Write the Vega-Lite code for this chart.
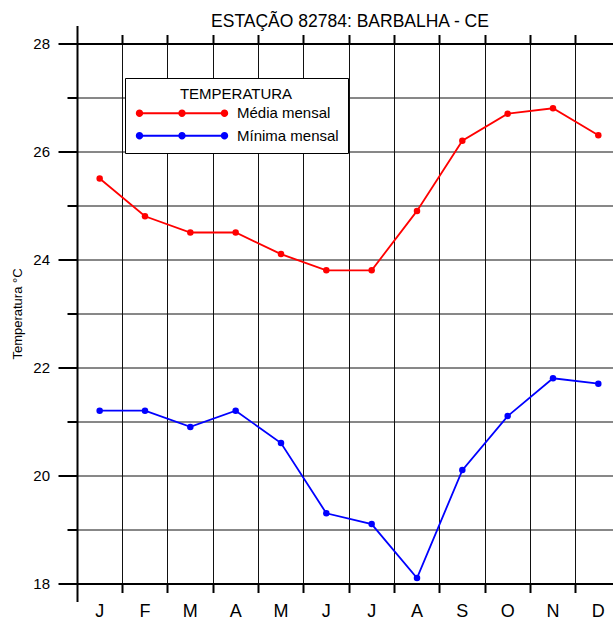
{
  "$schema": "https://vega.github.io/schema/vega-lite/v6.json",
  "width": 536,
  "height": 540,
  "autosize": {"type": "none"},
  "padding": {"left": 77, "top": 43.5, "right": 0, "bottom": 38.5},
  "background": "white",
  "config": {"view": {"stroke": null}, "font": "Liberation Sans"},
  "title": {
    "text": "ESTAÇÃO 82784: BARBALHA - CE",
    "anchor": "middle",
    "frame": "group",
    "font": "Liberation Sans",
    "fontSize": 17.5,
    "fontWeight": "normal",
    "color": "black",
    "offset": -20,
    "baseline": "alphabetic",
    "dx": 5
  },
  "data": {
    "values": [
      {"mes": "Jan", "serie": "Média mensal", "temp": 25.5},
      {"mes": "Fev", "serie": "Média mensal", "temp": 24.8},
      {"mes": "Mar", "serie": "Média mensal", "temp": 24.5},
      {"mes": "Abr", "serie": "Média mensal", "temp": 24.5},
      {"mes": "Mai", "serie": "Média mensal", "temp": 24.1},
      {"mes": "Jun", "serie": "Média mensal", "temp": 23.8},
      {"mes": "Jul", "serie": "Média mensal", "temp": 23.8},
      {"mes": "Ago", "serie": "Média mensal", "temp": 24.9},
      {"mes": "Set", "serie": "Média mensal", "temp": 26.2},
      {"mes": "Out", "serie": "Média mensal", "temp": 26.7},
      {"mes": "Nov", "serie": "Média mensal", "temp": 26.8},
      {"mes": "Dez", "serie": "Média mensal", "temp": 26.3},
      {"mes": "Jan", "serie": "Mínima mensal", "temp": 21.2},
      {"mes": "Fev", "serie": "Mínima mensal", "temp": 21.2},
      {"mes": "Mar", "serie": "Mínima mensal", "temp": 20.9},
      {"mes": "Abr", "serie": "Mínima mensal", "temp": 21.2},
      {"mes": "Mai", "serie": "Mínima mensal", "temp": 20.6},
      {"mes": "Jun", "serie": "Mínima mensal", "temp": 19.3},
      {"mes": "Jul", "serie": "Mínima mensal", "temp": 19.1},
      {"mes": "Ago", "serie": "Mínima mensal", "temp": 18.1},
      {"mes": "Set", "serie": "Mínima mensal", "temp": 20.1},
      {"mes": "Out", "serie": "Mínima mensal", "temp": 21.1},
      {"mes": "Nov", "serie": "Mínima mensal", "temp": 21.8},
      {"mes": "Dez", "serie": "Mínima mensal", "temp": 21.7}
    ]
  },
  "resolve": {"axis": {"x": "independent", "y": "independent"}, "legend": {"color": "independent"}},
  "layer": [
    {
      "mark": {"type": "line", "strokeWidth": 1.8},
      "encoding": {
        "x": {
          "field": "mes",
          "type": "ordinal",
          "sort": ["Jan", "Fev", "Mar", "Abr", "Mai", "Jun", "Jul", "Ago", "Set", "Out", "Nov", "Dez"],
          "scale": {"type": "band", "paddingInner": 0, "paddingOuter": 0, "range": [0, 544]},
          "axis": {
            "orient": "bottom",
            "bandPosition": 0,
            "title": null,
            "grid": true,
            "gridColor": "#111111",
            "gridWidth": 1,
            "domainColor": "black",
            "domainWidth": 2,
            "ticks": true,
            "tickColor": "black",
            "tickWidth": 2,
            "tickSize": {"condition": {"test": "datum.value === 'Jan'", "value": 18}, "value": 9},
            "labelExpr": "substring(datum.label, 0, 1)",
            "labelOffset": 0,
            "labelPadding": {"condition": {"test": "datum.value === 'Jan'", "value": 1}, "value": 10},
            "labelFontSize": 18,
            "labelColor": "black",
            "labelAngle": 0,
            "labelFlush": false,
            "labelOverlap": false,
            "labelBound": false
          }
        },
        "y": {
          "field": "temp",
          "type": "quantitative",
          "scale": {"domain": [18, 28], "nice": false, "zero": false},
          "axis": {
            "orient": "left",
            "values": [18, 19, 20, 21, 22, 23, 24, 25, 26, 27, 28],
            "domainColor": "black",
            "domainWidth": 2,
            "tickColor": "black",
            "tickWidth": 2,
            "tickSize": {"condition": {"test": "datum.value % 2 === 0", "value": 19}, "value": 10},
            "labelExpr": "datum.value % 2 === 0 ? datum.label : ''",
            "labelFontSize": 15,
            "labelColor": "black",
            "labelPadding": 8.5,
            "grid": true,
            "gridColor": "#111111",
            "gridWidth": 1,
            "title": "Temperatura °C",
            "titleFont": "Liberation Sans",
            "titleFontSize": 13,
            "titleFontWeight": "normal",
            "titleColor": "black",
            "titleX": -60,
            "titleY": 270,
            "titleAngle": -90,
            "titleAlign": "center",
            "titleBaseline": "middle"
          }
        },
        "color": {
          "field": "serie",
          "type": "nominal",
          "scale": {"domain": ["Média mensal", "Mínima mensal"], "range": ["#ff0000", "#0000ff"]},
          "legend": null
        }
      }
    },
    {
      "mark": {"type": "point", "filled": true, "size": 42, "opacity": 1},
      "encoding": {
        "x": {
          "field": "mes",
          "type": "ordinal",
          "sort": ["Jan", "Fev", "Mar", "Abr", "Mai", "Jun", "Jul", "Ago", "Set", "Out", "Nov", "Dez"],
          "axis": {
            "orient": "top",
            "bandPosition": 0,
            "title": null,
            "labels": false,
            "grid": false,
            "domainColor": "black",
            "domainWidth": 2,
            "ticks": true,
            "tickColor": "black",
            "tickWidth": 2,
            "tickSize": {"condition": {"test": "datum.value === 'Jan'", "value": 18}, "value": 9}
          }
        },
        "y": {"field": "temp", "type": "quantitative", "axis": null},
        "color": {
          "field": "serie",
          "type": "nominal",
          "legend": {
            "orient": "none",
            "legendX": 48,
            "legendY": 34.5,
            "title": "TEMPERATURA",
            "titleFont": "Liberation Sans",
            "titleFontSize": 15,
            "titleFontWeight": "normal",
            "titleColor": "black",
            "titleAnchor": "middle",
            "titleAlign": "center",
            "titlePadding": 3.8,
            "labelFont": "Liberation Sans",
            "labelFontSize": 15,
            "labelColor": "black",
            "labelOffset": 88,
            "symbolType": "M-0.29,-0.143H11.86V0.143H-0.29Z M-0.816,0A0.53,0.53 0 1,1 0.244,0A0.53,0.53 0 1,1 -0.816,0Z M5.256,0A0.53,0.53 0 1,1 6.316,0A0.53,0.53 0 1,1 5.256,0Z M11.327,0A0.53,0.53 0 1,1 12.387,0A0.53,0.53 0 1,1 11.327,0Z",
            "symbolSize": 196,
            "symbolStrokeWidth": 0,
            "symbolOpacity": 1,
            "padding": 9,
            "rowPadding": 6.4,
            "strokeColor": "black",
            "fillColor": "white"
          }
        }
      }
    }
  ]
}
